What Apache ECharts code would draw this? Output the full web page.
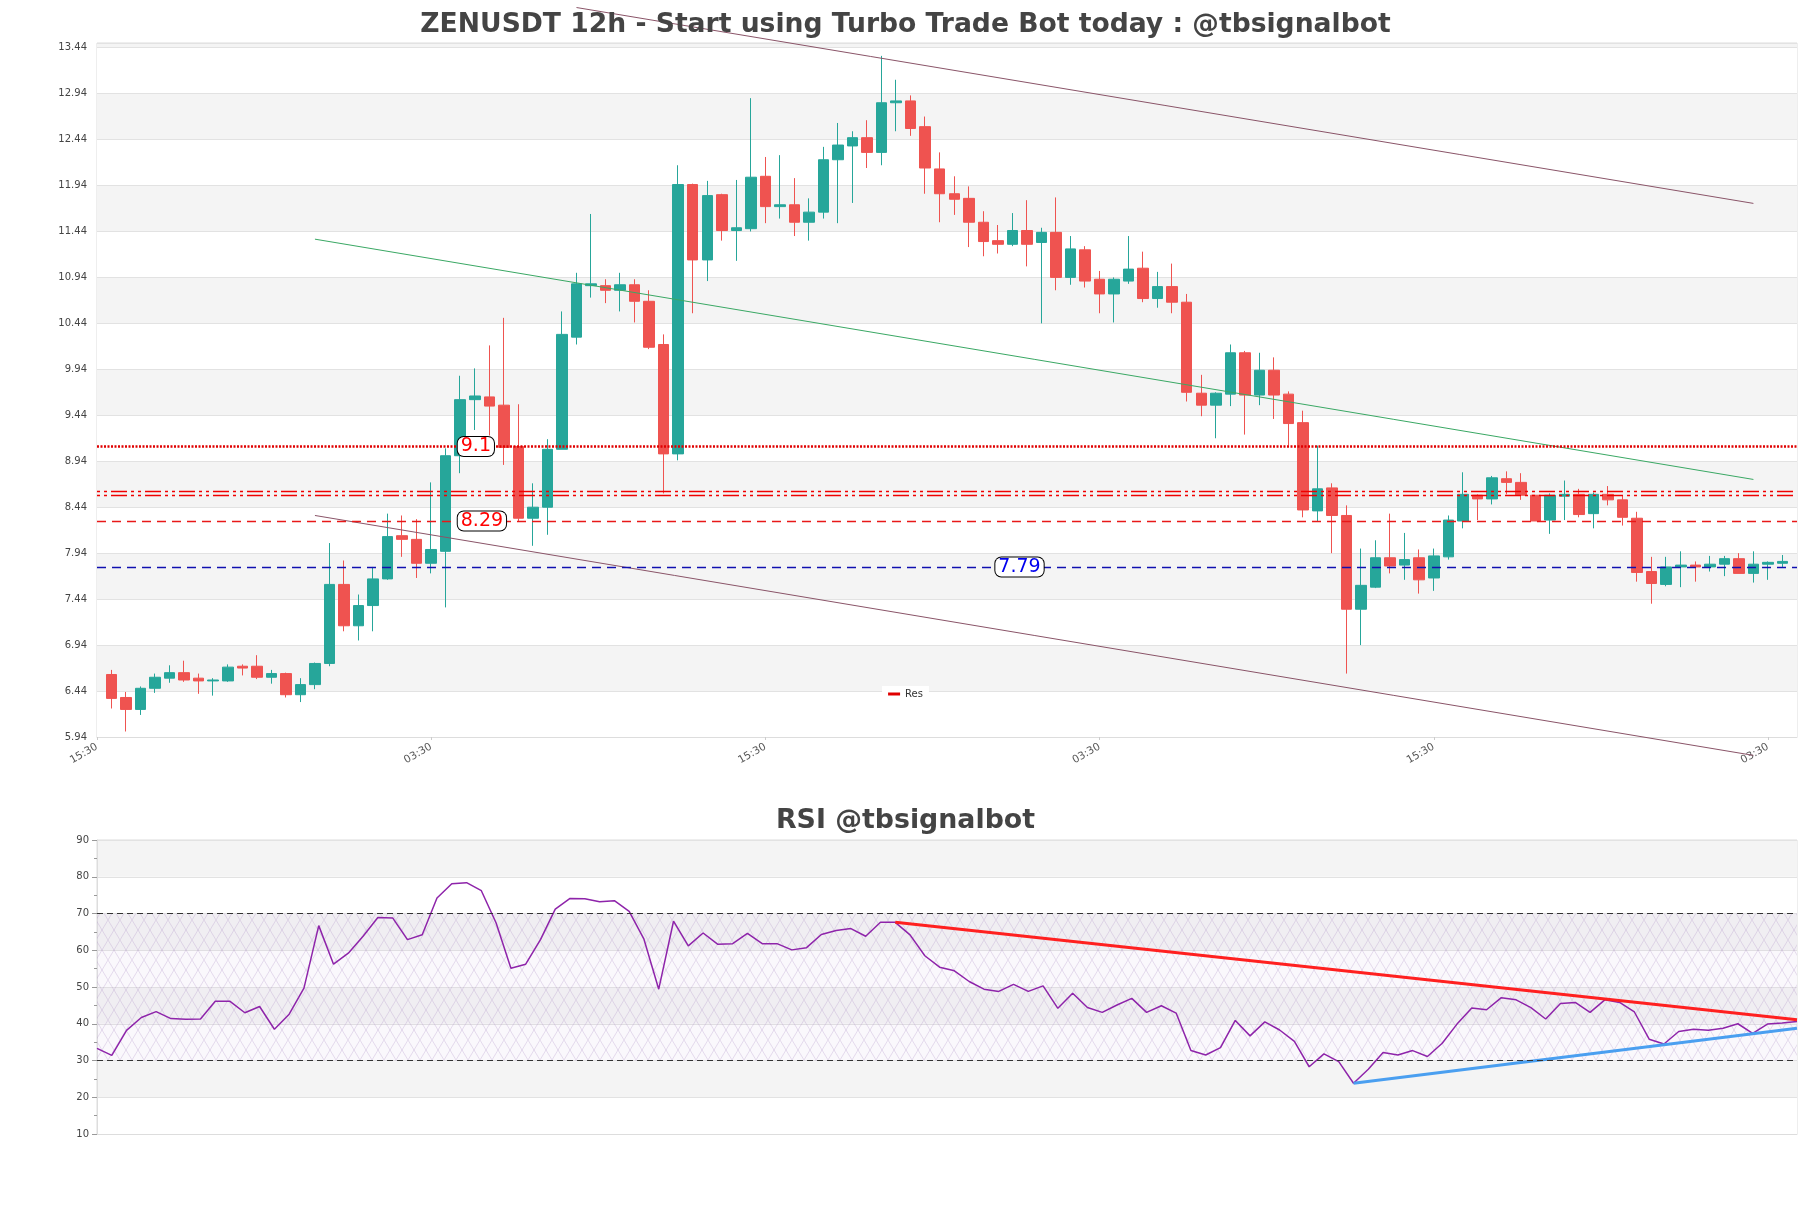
<!DOCTYPE html>
<html>
<head>
<meta charset="utf-8">
<title>ZENUSDT 12h</title>
<script src="https://cdn.jsdelivr.net/npm/echarts@6/dist/echarts.min.js"></script>
<style>
  html, body { margin: 0; padding: 0; background: #fff; }
  #chart { width: 1811px; height: 1208px; }
</style>
</head>
<body>
<div id="chart"></div>
<script>
// 12h candles
var timeLabels = ['15:30', '03:30'];

var openV = [6.62, 6.37, 6.24, 6.47, 6.58, 6.64, 6.58, 6.55, 6.55, 6.71,
  6.71, 6.59, 6.63, 6.40, 6.51, 6.74, 7.60, 7.15, 7.37, 7.66,
  8.13, 8.09, 7.83, 7.96, 9.00, 9.61, 9.64, 9.55, 9.10, 8.32,
  8.44, 9.07, 10.29, 10.85, 10.85, 10.80, 10.86, 10.68, 10.21, 9.02,
  11.95, 11.13, 11.84, 11.45, 11.47, 12.04, 11.71, 11.73, 11.54, 11.65,
  12.22, 12.37, 12.46, 12.30, 12.84, 12.86, 12.58, 12.12, 11.85, 11.80,
  11.54, 11.34, 11.30, 11.45, 11.32, 11.43, 10.94, 11.24, 10.92, 10.76,
  10.90, 11.04, 10.71, 10.84, 10.67, 9.68, 9.55, 9.67, 10.12, 9.66,
  9.93, 9.67, 9.36, 8.40, 8.65, 8.35, 7.33, 7.57, 7.89, 7.81,
  7.89, 7.67, 7.90, 8.29, 8.57, 8.53, 8.75, 8.71, 8.57, 8.30,
  8.56, 8.58, 8.37, 8.58, 8.52, 8.32, 7.74, 7.60, 7.79, 7.81,
  7.79, 7.82, 7.88, 7.72, 7.82, 7.83];

var closeV = [6.36, 6.24, 6.47, 6.59, 6.64, 6.56, 6.55, 6.56, 6.70, 6.69,
  6.59, 6.63, 6.40, 6.51, 6.74, 7.60, 7.15, 7.37, 7.66, 8.12,
  8.09, 7.83, 7.98, 9.00, 9.61, 9.65, 9.54, 9.09, 8.32, 8.44,
  9.07, 10.32, 10.87, 10.87, 10.80, 10.86, 10.68, 10.18, 9.02, 11.95,
  11.13, 11.83, 11.45, 11.48, 12.03, 11.71, 11.73, 11.54, 11.65, 12.22,
  12.38, 12.46, 12.30, 12.84, 12.86, 12.56, 12.13, 11.85, 11.79, 11.54,
  11.33, 11.30, 11.45, 11.30, 11.43, 10.94, 11.25, 10.90, 10.76, 10.92,
  11.03, 10.71, 10.84, 10.67, 9.69, 9.55, 9.68, 10.12, 9.66, 9.93,
  9.66, 9.35, 8.41, 8.64, 8.35, 7.33, 7.59, 7.89, 7.80, 7.87,
  7.65, 7.91, 8.30, 8.58, 8.53, 8.76, 8.71, 8.57, 8.29, 8.57,
  8.58, 8.36, 8.58, 8.52, 8.33, 7.73, 7.61, 7.79, 7.81, 7.79,
  7.82, 7.88, 7.72, 7.82, 7.84, 7.85];

var lowV = [6.25, 6.00, 6.18, 6.42, 6.53, 6.54, 6.41, 6.39, 6.54, 6.61,
  6.57, 6.52, 6.37, 6.32, 6.46, 6.71, 7.09, 6.99, 7.09, 7.65,
  7.90, 7.67, 7.72, 7.35, 8.81, 9.28, 9.22, 8.90, 8.29, 8.02,
  8.14, 9.07, 10.21, 10.72, 10.66, 10.57, 10.45, 10.16, 8.59, 8.95,
  10.55, 10.90, 11.34, 11.12, 11.44, 11.53, 11.58, 11.39, 11.34, 11.58,
  11.53, 11.75, 12.13, 12.16, 12.53, 12.48, 11.85, 11.54, 11.62, 11.27,
  11.17, 11.20, 11.28, 11.06, 10.44, 10.80, 10.86, 10.83, 10.55, 10.45,
  10.87, 10.67, 10.61, 10.55, 9.59, 9.43, 9.19, 9.54, 9.23, 9.55,
  9.40, 9.11, 8.33, 8.29, 7.94, 6.63, 6.94, 7.56, 7.72, 7.65,
  7.50, 7.53, 7.87, 8.21, 8.30, 8.47, 8.58, 8.52, 8.29, 8.15,
  8.30, 8.33, 8.21, 8.46, 8.24, 7.63, 7.39, 7.58, 7.57, 7.63,
  7.74, 7.69, 7.72, 7.62, 7.65, 7.79];

var highV = [6.67, 6.43, 6.49, 6.63, 6.72, 6.77, 6.63, 6.58, 6.73, 6.73,
  6.83, 6.67, 6.64, 6.58, 6.75, 8.05, 7.86, 7.49, 7.79, 8.37,
  8.35, 8.31, 8.71, 9.08, 9.87, 9.95, 10.20, 10.50, 9.56, 8.70,
  9.18, 10.57, 10.99, 11.63, 10.92, 10.99, 10.92, 10.80, 10.32, 12.16,
  11.96, 11.99, 11.85, 12.00, 12.89, 12.25, 12.27, 12.02, 11.80, 12.36,
  12.62, 12.53, 12.65, 13.35, 13.09, 12.92, 12.69, 12.30, 12.04, 11.93,
  11.66, 11.51, 11.64, 11.78, 11.48, 11.81, 11.39, 11.28, 11.01, 10.94,
  11.39, 11.22, 11.00, 11.09, 10.76, 9.88, 9.69, 10.21, 10.14, 10.12,
  10.07, 9.70, 9.49, 9.11, 8.70, 8.46, 7.99, 8.08, 8.37, 8.16,
  7.98, 7.99, 8.35, 8.82, 8.58, 8.78, 8.83, 8.81, 8.57, 8.59,
  8.73, 8.64, 8.60, 8.67, 8.57, 8.39, 7.90, 7.90, 7.96, 7.85,
  7.91, 7.91, 7.94, 7.96, 7.85, 7.92];

var rsiV = [33.3, 31.4, 38.2, 41.7, 43.3, 41.4, 41.2, 41.3, 46.1, 46.1,
  43.0, 44.7, 38.5, 42.6, 49.7, 66.7, 56.2, 59.2, 63.8, 68.9,
  68.8, 62.9, 64.2, 74.2, 78.1, 78.4, 76.2, 67.4, 55.1, 56.2,
  62.9, 71.2, 74.1, 74.0, 73.2, 73.5, 70.6, 63.0, 49.4, 67.9,
  61.2, 64.7, 61.6, 61.8, 64.6, 61.8, 61.8, 60.1, 60.7, 64.3,
  65.4, 65.9, 63.8, 67.6, 67.6, 64.2, 58.5, 55.4, 54.4, 51.5,
  49.4, 48.8, 50.7, 48.8, 50.3, 44.2, 48.3, 44.4, 43.1, 45.1,
  46.9, 43.1, 44.9, 42.9, 32.7, 31.5, 33.5, 40.9, 36.7, 40.5,
  38.3, 35.2, 28.3, 31.8, 29.7, 23.8, 27.6, 32.2, 31.5, 32.7,
  31.1, 34.7, 39.9, 44.3, 43.8, 47.1, 46.5, 44.4, 41.3, 45.5,
  45.8, 43.1, 46.5, 45.8, 43.2, 35.8, 34.5, 37.9, 38.5, 38.2,
  38.8, 40.0, 37.4, 39.9, 40.2, 40.6];

// support / resistance levels
var resDotted = 9.1;
var resDouble = [8.575, 8.605];
var resDashed = 8.29;
var supDashed = 7.79;
// where the price tags sit (category index)
var tagIndex = [25, 25, 62];

// channel lines [categoryIndex, price]
var channelUpper = [[33, 13.876], [114, 11.745]];
var channelMid = [[15, 11.356], [114, 8.742]];
var channelLower = [[15, 8.35], [114, 5.74]];

// rsi trend lines [index, rsi]
var rsiDownTrend = [[54, 67.6], [115, 41.1]];
var rsiUpTrend = [[85, 23.8], [115, 38.8]];

var categories = [];
for (var i = 0; i < openV.length + 2; i++) {
  categories.push(timeLabels[i % 2]);
}
var rsiCategories = [];
for (var j = 0; j < rsiV.length; j++) {
  rsiCategories.push(timeLabels[(j + 1) % 2]);
}

var candles = [['-', '-', '-', '-']];
for (var k = 0; k < openV.length; k++) {
  candles.push([openV[k], closeV[k], lowV[k], highV[k]]);
}
candles.push(['-', '-', '-', '-']);

function hatch() {
  var c = document.createElement('canvas');
  c.width = 12;
  c.height = 20;
  var ctx = c.getContext('2d');
  ctx.fillStyle = 'rgba(215,200,230,0.12)';
  ctx.fillRect(0, 0, 12, 20);
  ctx.strokeStyle = 'rgba(170,140,195,0.35)';
  ctx.lineWidth = 0.8;
  ctx.beginPath();
  ctx.moveTo(0, 0);
  ctx.lineTo(12, 20);
  ctx.moveTo(12, 0);
  ctx.lineTo(0, 20);
  ctx.stroke();
  return c;
}

function tag(idx, value, color) {
  return {
    coord: [idx, value],
    value: String(value),
    label: { color: color }
  };
}

var chart = echarts.init(document.getElementById('chart'));
var option = {
  animation: false,
  backgroundColor: '#fff',
  textStyle: { fontFamily: 'DejaVu Sans' },
  title: [
    {
      text: 'ZENUSDT 12h - Start using Turbo Trade Bot today : @tbsignalbot',
      left: 'center',
      top: 7,
      textStyle: { fontSize: 26.6, fontWeight: 'bold', color: '#444', fontFamily: 'DejaVu Sans' }
    },
    {
      text: 'RSI @tbsignalbot',
      left: 'center',
      top: 803,
      textStyle: { fontSize: 26.8, fontWeight: 'bold', color: '#444', fontFamily: 'DejaVu Sans' }
    }
  ],
  legend: {
    data: ['Res'],
    left: 'center',
    top: 686,
    icon: 'rect',
    itemWidth: 12,
    itemHeight: 3,
    backgroundColor: '#fff',
    padding: [3, 6],
    textStyle: { fontSize: 10, color: '#333' }
  },
  grid: [
    { left: 97, right: 14, top: 43, height: 694, show: true, borderColor: '#ddd' },
    { left: 97, right: 14, top: 840, height: 294, show: true, borderColor: '#ddd' }
  ],
  xAxis: [
    {
      type: 'category',
      gridIndex: 0,
      data: categories,
      boundaryGap: false,
      axisLine: { lineStyle: { color: '#ddd' } },
      axisTick: { show: true, interval: 22, length: 3, lineStyle: { color: '#ccc' } },
      axisLabel: { interval: 22, rotate: 30, fontSize: 10.5, color: '#555', margin: 9 },
      splitLine: { show: false }
    },
    {
      type: 'category',
      gridIndex: 1,
      data: rsiCategories,
      boundaryGap: false,
      axisLine: { lineStyle: { color: '#ddd' } },
      axisTick: { show: false },
      axisLabel: { show: false },
      splitLine: { show: false }
    }
  ],
  yAxis: [
    {
      type: 'value',
      gridIndex: 0,
      min: 5.94,
      max: 13.49,
      interval: 0.5,
      axisLine: { show: false },
      axisTick: { show: false },
      axisLabel: {
        fontSize: 10,
        color: '#444',
        margin: 10,
        showMaxLabel: false,
        formatter: function (v) { return v.toFixed(2); }
      },
      splitLine: { lineStyle: { color: '#e2e2e2' } },
      splitArea: { show: true, areaStyle: { color: ['#fff', '#f4f4f4'] } }
    },
    {
      type: 'value',
      gridIndex: 1,
      min: 10,
      max: 90,
      interval: 10,
      axisLine: { show: true, lineStyle: { color: '#ddd' } },
      axisTick: { show: true, length: 5, lineStyle: { color: '#999' } },
      minorTick: { show: true, splitNumber: 2, length: 3, lineStyle: { color: '#999' } },
      axisLabel: { fontSize: 10, color: '#444', margin: 8 },
      splitLine: { lineStyle: { color: '#e2e2e2' } },
      splitArea: { show: true, areaStyle: { color: ['#fff', '#f4f4f4'] } }
    }
  ],
  series: [
    {
      name: 'ZENUSDT',
      type: 'candlestick',
      xAxisIndex: 0,
      yAxisIndex: 0,
      data: candles,
      barWidth: 11,
      itemStyle: {
        color: '#26a69a',
        color0: '#ef5350',
        borderColor: '#26a69a',
        borderColor0: '#ef5350'
      },
      markLine: {
        symbol: 'none',
        silent: true,
        label: { show: false },
        data: [
          { yAxis: resDotted, lineStyle: { color: '#e00000', type: [2, 1.5], width: 2.5 } },
          { yAxis: resDouble[0], lineStyle: { color: '#f00000', type: [3, 4, 3, 4, 16, 4], width: 1.4 } },
          { yAxis: resDouble[1], lineStyle: { color: '#f00000', type: [3, 4, 3, 4, 16, 4], width: 1.4 } },
          { yAxis: resDashed, lineStyle: { color: '#e81818', type: [9, 6], width: 1.4 } },
          { yAxis: supDashed, lineStyle: { color: '#1010b0', type: [9, 6], width: 1.4 } }
        ]
      },
      markPoint: {
        symbol: 'rect',
        symbolSize: 1,
        silent: true,
        itemStyle: { color: 'rgba(0,0,0,0)' },
        label: {
          show: true,
          position: 'right',
          distance: 0,
          offset: [-3, 0],
          fontSize: 19,
          lineHeight: 19,
          fontFamily: 'DejaVu Sans',
          backgroundColor: '#fff',
          borderColor: '#000',
          borderWidth: 1,
          borderRadius: 6,
          padding: [0, 3],
          formatter: function (p) { return p.value; }
        },
        data: [
          tag(tagIndex[0], resDotted, '#ff0000'),
          tag(tagIndex[1], resDashed, '#ff0000'),
          tag(tagIndex[2], supDashed, '#0000ee')
        ]
      }
    },
    {
      name: 'Res',
      type: 'line',
      xAxisIndex: 0,
      yAxisIndex: 0,
      data: [],
      color: '#e00000'
    },
    {
      name: 'upper',
      type: 'line',
      xAxisIndex: 0,
      yAxisIndex: 0,
      data: channelUpper,
      symbol: 'none',
      clip: false,
      silent: true,
      lineStyle: { color: '#8a5468', width: 1 }
    },
    {
      name: 'mid',
      type: 'line',
      xAxisIndex: 0,
      yAxisIndex: 0,
      data: channelMid,
      symbol: 'none',
      clip: false,
      silent: true,
      lineStyle: { color: '#3aa864', width: 1 }
    },
    {
      name: 'lower',
      type: 'line',
      xAxisIndex: 0,
      yAxisIndex: 0,
      data: channelLower,
      symbol: 'none',
      clip: false,
      silent: true,
      lineStyle: { color: '#8a5468', width: 1 }
    },
    {
      name: 'RSI',
      type: 'line',
      xAxisIndex: 1,
      yAxisIndex: 1,
      data: rsiV,
      symbol: 'none',
      lineStyle: { color: '#8e24aa', width: 1.5 },
      markArea: {
        silent: true,
        itemStyle: { color: { image: hatch(), repeat: 'repeat' } },
        data: [[{ yAxis: 30 }, { yAxis: 70 }]]
      },
      markLine: {
        symbol: 'none',
        silent: true,
        label: { show: false },
        lineStyle: { color: '#333', type: [6, 4], width: 1 },
        data: [{ yAxis: 70 }, { yAxis: 30 }]
      }
    },
    {
      name: 'rsiDown',
      type: 'line',
      xAxisIndex: 1,
      yAxisIndex: 1,
      data: rsiDownTrend,
      symbol: 'none',
      silent: true,
      lineStyle: { color: '#ff2020', width: 3 }
    },
    {
      name: 'rsiUp',
      type: 'line',
      xAxisIndex: 1,
      yAxisIndex: 1,
      data: rsiUpTrend,
      symbol: 'none',
      silent: true,
      lineStyle: { color: '#4a9ff0', width: 3 }
    }
  ]
};
chart.setOption(option);
window.addEventListener('resize', chart.resize);
</script>
</body>
</html>
